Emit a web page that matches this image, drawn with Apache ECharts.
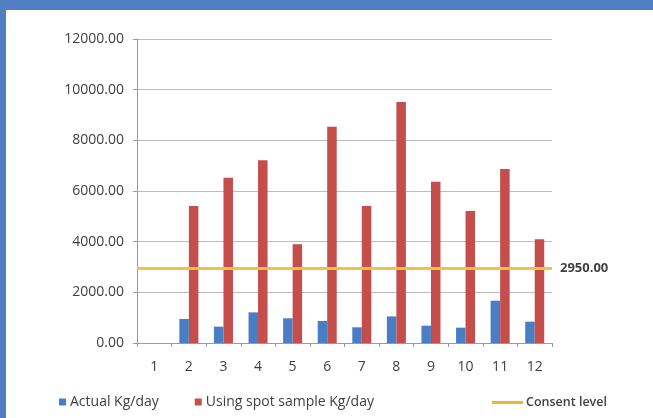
<!DOCTYPE html>
<html lang="en">
<head>
    <meta charset="UTF-8">
    <title>Actual vs spot sample Kg/day</title>
    <style>
        body { margin: 0; background: #fff; }
        #echarts { width: 653px; height: 418px; }
    </style>
</head>
<script src="https://cdn.jsdelivr.net/npm/echarts@6/dist/echarts.min.js"></script>
<body>
    <div id="echarts"></div>
</body>
<script>
    // data
    const categories = ['1', '2', '3', '4', '5', '6', '7', '8', '9', '10', '11', '12'];
    const actual = [0, 950, 645, 1210, 975, 870, 620, 1050, 684, 605, 1670, 842];
    const spotSample = [0, 5410, 6525, 7210, 3895, 8540, 5410, 9515, 6370, 5210, 6870, 4095];
    const consentLevel = 2950;
    const yTicks = [0, 2000, 4000, 6000, 8000, 10000, 12000];

    const textColor = '#404040';
    const font = 'Open Sans';

    let myChart = echarts.init(document.getElementById('echarts'));

    let option = {
      textStyle: { fontFamily: font },
      animation: false,
      // blue frame on top and left
      graphic: [
        { type: 'rect', left: 0, top: 0, shape: { width: 653, height: 10 }, style: { fill: '#4F7FC1' } },
        { type: 'rect', left: 0, top: 0, shape: { width: 6, height: 418 }, style: { fill: '#4F7FC1' } },
      ],
      grid: { left: 137, top: 39, right: 101, bottom: 75 },
      legend: [
        {
          left: 54, top: 390,
          itemWidth: 7, itemHeight: 7, itemGap: 36,
          icon: 'rect',
          textStyle: { color: textColor, fontSize: 14, fontFamily: font, padding: [0, 0, 0, -1] },
          data: ['Actual Kg/day', 'Using spot sample Kg/day'],
        },
        {
          left: 487, top: 391,
          itemWidth: 31, itemHeight: 3,
          icon: 'rect',
          textStyle: { color: textColor, fontSize: 12.5, fontWeight: 600, fontFamily: font, padding: [0, 0, 0, -2] },
          data: ['Consent level'],
        },
      ],
      xAxis: {
        type: 'category',
        data: categories,
        axisLine: { lineStyle: { color: '#9a9a9a' } },
        axisTick: { show: true, length: 4, lineStyle: { color: '#9a9a9a' } },
        axisLabel: { color: textColor, fontSize: 14, margin: 17 },
      },
      yAxis: {
        type: 'value',
        min: yTicks[0],
        max: yTicks[yTicks.length - 1],
        interval: 2000,
        axisLine: { show: true, lineStyle: { color: '#9a9a9a' } },
        axisTick: { show: true, length: 4, lineStyle: { color: '#9a9a9a' } },
        axisLabel: { color: textColor, fontSize: 14, margin: 13, formatter: v => v.toFixed(2) },
        splitLine: { lineStyle: { color: '#bdbdbd' } },
      },
      series: [
        {
          name: 'Actual Kg/day',
          type: 'bar',
          data: actual,
          itemStyle: { color: '#4A7EC4' },
          barGap: '0%',
          barCategoryGap: '45%',
        },
        {
          name: 'Using spot sample Kg/day',
          type: 'bar',
          data: spotSample,
          itemStyle: { color: '#C44E4C' },
        },
        {
          name: 'Consent level',
          type: 'line',
          data: [],
          itemStyle: { color: '#EDB530' },
          lineStyle: { color: '#EDB530' },
          z: 5,
          markLine: {
            symbol: 'none',
            silent: true,
            lineStyle: { color: '#F5C23F', width: 3, type: 'solid' },
            label: {
              position: 'end',
              distance: 8,
              color: textColor,
              fontSize: 13,
              fontWeight: 'bold',
              fontFamily: font,
              formatter: obj => obj.value.toFixed(2),
            },
            data: [{ yAxis: consentLevel }],
          },
        },
      ],
    };
    myChart.setOption(option);
</script>
</html>
